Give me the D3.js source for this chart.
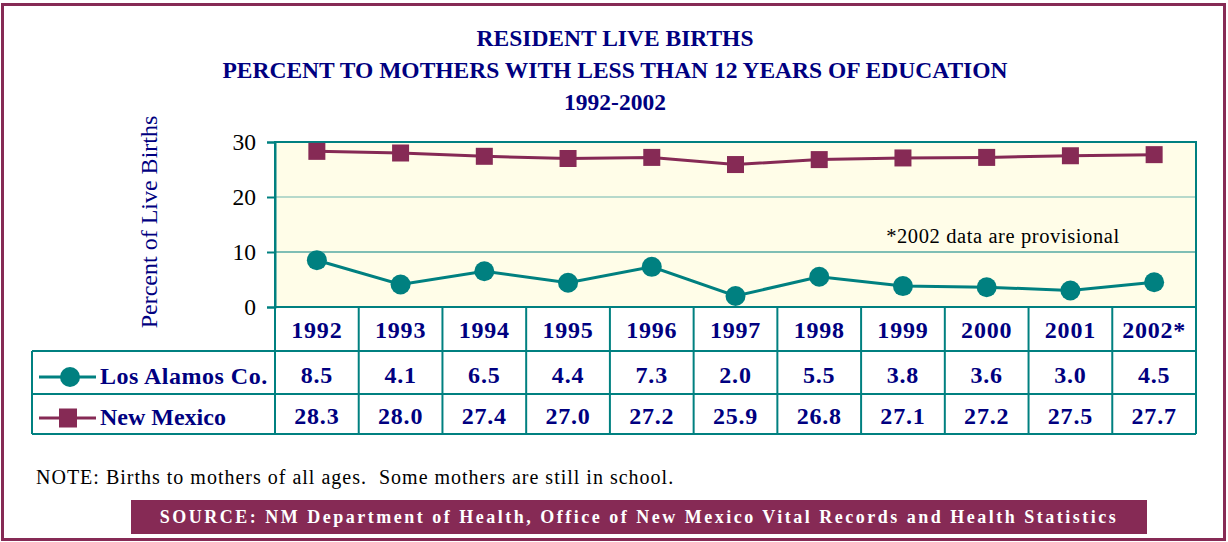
<!DOCTYPE html>
<html><head><meta charset="utf-8">
<script src="https://cdn.jsdelivr.net/npm/d3@7"></script>
<style>body{margin:0;background:#fff}svg{display:block}</style>
</head><body><svg id="c" width="1228" height="542"></svg>
<script>
const years = ["1992","1993","1994","1995","1996","1997","1998","1999","2000","2001","2002*"];
const losAlamos = [8.5,4.1,6.5,4.4,7.3,2.0,5.5,3.8,3.6,3.0,4.5];
const newMexico = [28.3,28.0,27.4,27.0,27.2,25.9,26.8,27.1,27.2,27.5,27.7];
const yTicks = [0,10,20,30];
const seriesNames = ["Los Alamos Co.","New Mexico"];
const titleLines = ["RESIDENT LIVE BIRTHS","PERCENT TO MOTHERS WITH LESS THAN 12 YEARS OF EDUCATION","1992-2002"];

const maroon = "#862a55", teal = "#008080", navy = "#000080";
const svg = d3.select("#c");
const serif = "'Liberation Serif','Times New Roman',serif";

svg.append("rect").attr("x",2.5).attr("y",4.5).attr("width",1222).attr("height",535)
  .attr("fill","#fff").attr("stroke",maroon).attr("stroke-width",3);

const L = 275, R = 1196, T = 142, B = 307;
const x = d3.scaleBand().domain(years).range([L,R]);
const y = d3.scaleLinear().domain([0,30]).range([B,T]);

// titles
svg.selectAll(".title").data(titleLines).join("text")
  .attr("x",615).attr("y",(d,i)=>46+i*32).attr("text-anchor","middle")
  .attr("font-family",serif).attr("font-weight","bold").attr("font-size",23.5).attr("fill",navy)
  .text(d=>d);

// plot area
svg.append("rect").attr("x",L).attr("y",T).attr("width",R-L).attr("height",B-T).attr("fill","#fffde8");
svg.selectAll(".grid").data(yTicks.filter(d=>d>0 && d<30)).join("line")
  .attr("x1",L).attr("x2",R).attr("y1",d=>y(d)).attr("y2",d=>y(d))
  .attr("stroke",d=>d===20?"#6fb5ad":teal).attr("stroke-width",1.2);
svg.append("rect").attr("x",L).attr("y",T).attr("width",R-L).attr("height",B-T)
  .attr("fill","none").attr("stroke",teal).attr("stroke-width",2);

// y axis
const yAxis = svg.append("g").attr("transform",`translate(${L},0)`)
  .call(d3.axisLeft(y).tickValues(yTicks).tickSize(8).tickPadding(11));
yAxis.select(".domain").attr("stroke",teal).attr("stroke-width",2);
yAxis.selectAll(".tick line").attr("stroke",teal).attr("stroke-width",2);
yAxis.selectAll("text").attr("font-family",serif).attr("font-size",23.5).attr("fill","#000");

svg.append("text").attr("transform","translate(157,222) rotate(-90)").attr("text-anchor","middle")
  .attr("font-family",serif).attr("font-size",24).attr("fill",navy).text("Percent of Live Births");

svg.append("text").attr("x",1003).attr("y",243).attr("text-anchor","middle")
  .attr("font-family",serif).attr("font-size",20.5).attr("letter-spacing",0.6).attr("fill","#000")
  .text("*2002 data are provisional");

// lines
const cx = d => x(d) + x.bandwidth()/2;
const line = d3.line().x(d=>cx(d.k)).y(d=>y(d.v));
const nmData = years.map((k,i)=>({k,v:newMexico[i]}));
const laData = years.map((k,i)=>({k,v:losAlamos[i]}));
svg.append("path").datum(nmData).attr("d",line).attr("fill","none").attr("stroke",maroon).attr("stroke-width",3);
svg.selectAll(".sq").data(nmData).join("rect").attr("x",d=>cx(d.k)-8.5).attr("y",d=>y(d.v)-8.5)
  .attr("width",17).attr("height",17).attr("fill",maroon);
svg.append("path").datum(laData).attr("d",line).attr("fill","none").attr("stroke",teal).attr("stroke-width",3);
svg.selectAll(".ci").data(laData).join("circle").attr("cx",d=>cx(d.k)).attr("cy",d=>y(d.v))
  .attr("r",10).attr("fill",teal);

// table
const rowY = [B, 351, 394, 434];
const tableLeft = 32;
const g = svg.append("g");
[1,2,3].forEach(r=>{
  g.append("line").attr("x1",tableLeft).attr("x2",R).attr("y1",rowY[r]).attr("y2",rowY[r]).attr("stroke",teal).attr("stroke-width",2);
});
g.append("line").attr("x1",tableLeft).attr("x2",tableLeft).attr("y1",rowY[1]).attr("y2",rowY[3]).attr("stroke",teal).attr("stroke-width",2);
const colEdges = years.map(k=>x(k)).concat([R]);
g.selectAll(".vl").data(colEdges).join("line").attr("x1",d=>d).attr("x2",d=>d)
  .attr("y1",B).attr("y2",rowY[3]).attr("stroke",teal).attr("stroke-width",2);

const cellText = sel => sel.attr("text-anchor","middle").attr("font-family",serif).attr("font-weight","bold")
  .attr("font-size",24).attr("letter-spacing",0.8).attr("fill",navy);
g.selectAll(".cat").data(years).join("text").attr("x",cx).attr("y",338).call(cellText).text(d=>d);
g.selectAll(".la").data(losAlamos).join("text").attr("x",(d,i)=>cx(years[i])).attr("y",383).call(cellText).text(d=>d.toFixed(1));
g.selectAll(".nm").data(newMexico).join("text").attr("x",(d,i)=>cx(years[i])).attr("y",424).call(cellText).text(d=>d.toFixed(1));

// legend in table
g.append("line").attr("x1",39).attr("x2",96).attr("y1",377).attr("y2",377).attr("stroke",teal).attr("stroke-width",3);
g.append("circle").attr("cx",70).attr("cy",377).attr("r",10).attr("fill",teal);
g.append("line").attr("x1",39).attr("x2",96).attr("y1",418).attr("y2",418).attr("stroke",maroon).attr("stroke-width",3);
g.append("rect").attr("x",59).attr("y",408.5).attr("width",18).attr("height",19).attr("fill",maroon);
g.selectAll(".lg").data(seriesNames).join("text").attr("x",100).attr("y",(d,i)=>i===0?384:425)
  .attr("font-family",serif).attr("font-weight","bold").attr("font-size",24).attr("letter-spacing",(d,i)=>i===0?0.5:0)
  .attr("fill",navy).text(d=>d);

// note
svg.append("text").attr("x",36).attr("y",484).attr("font-family",serif).attr("font-size",20).attr("letter-spacing",1.0).attr("fill","#000")
  .style("white-space","pre")
  .text("NOTE: Births to mothers of all ages.  Some mothers are still in school.");

// source banner
svg.append("rect").attr("x",131).attr("y",500).attr("width",1016).attr("height",34).attr("fill",maroon);
svg.append("text").attr("x",639).attr("y",523).attr("text-anchor","middle")
  .attr("font-family",serif).attr("font-weight","bold").attr("font-size",18).attr("letter-spacing",2.5).attr("fill","#fff")
  .text("SOURCE: NM Department of Health, Office of New Mexico Vital Records and Health Statistics");
</script></body></html>
